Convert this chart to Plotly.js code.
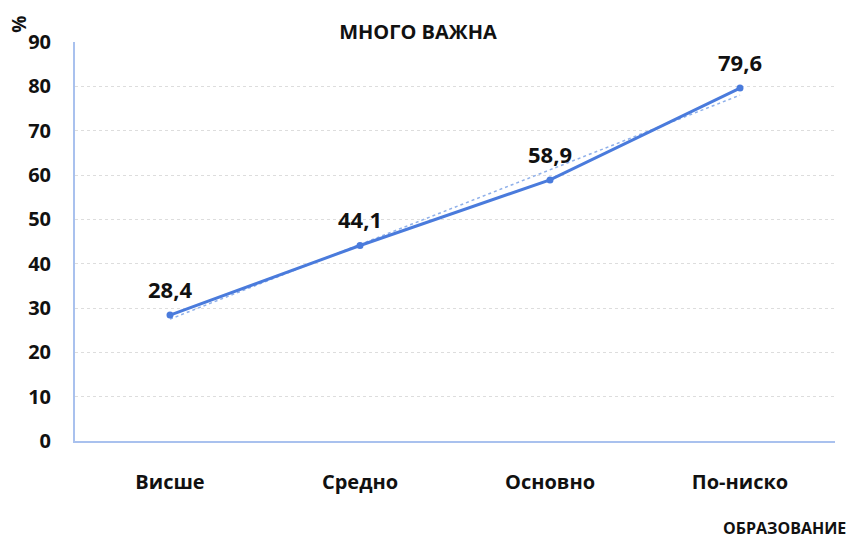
<!DOCTYPE html>
<html><head><meta charset="utf-8">
<script src="https://cdn.plot.ly/plotly-3.0.1.min.js"></script>
<style>body{margin:0;background:#fff}#c{width:853px;height:539px}</style>
</head><body><div id="c"></div>
<script>
const categories = ["Висше", "Средно", "Основно", "По-ниско"];
const values = [28.4, 44.1, 58.9, 79.6];
const labels = ["28,4", "44,1", "58,9", "79,6"];
const yTicks = [0, 10, 20, 30, 40, 50, 60, 70, 80, 90];

// linear trendline (least squares on category index)
const n = values.length;
const xs = values.map((v, i) => i + 1);
const mx = xs.reduce((a, b) => a + b, 0) / n;
const my = values.reduce((a, b) => a + b, 0) / n;
let sxy = 0, sxx = 0;
for (let i = 0; i < n; i++) { sxy += (xs[i] - mx) * (values[i] - my); sxx += (xs[i] - mx) ** 2; }
const slope = sxy / sxx, icpt = my - slope * mx;
const trend = xs.map(x => icpt + slope * x);

const F = '"Open Sans", sans-serif';
const data = [
  {x: categories, y: trend, type: 'scatter', mode: 'lines',
   line: {color: '#8fb0ea', width: 1.5, dash: 'dot'}, hoverinfo: 'skip'},
  {x: categories, y: values, type: 'scatter', mode: 'lines+markers',
   line: {color: '#4a7bdc', width: 3}, marker: {color: '#4a7bdc', size: 7}}
];
const labelAnns = categories.map((c, i) => ({
  x: c, y: values[i], xref: 'x', yref: 'y', text: labels[i], showarrow: false,
  yshift: 26, font: {family: F, size: 22, color: '#111', weight: 'bold'}
}));
const layout = {
  width: 853, height: 539, showlegend: false,
  margin: {l: 75, r: 18, t: 42, b: 98},
  paper_bgcolor: '#fff', plot_bgcolor: '#fff',
  title: {text: 'МНОГО ВАЖНА', x: 0.49, xanchor: 'center', y: 0.94, yanchor: 'middle',
          font: {family: F, size: 20, color: '#111', weight: 'bold'}},
  xaxis: {type: 'category', range: [-0.5, 3.5], showgrid: false,
          showline: true, linecolor: '#a9c1ee', linewidth: 2, ticks: '',
          ticklabelstandoff: 22,
          tickfont: {family: F, size: 20, color: '#111', weight: 'bold'}},
  yaxis: {range: [0, 90], tickvals: yTicks, showgrid: true, gridcolor: '#dddddd',
          griddash: 'dot', gridwidth: 1, zeroline: false,
          showline: true, linecolor: '#a9c1ee', linewidth: 2, ticks: '',
          ticklabelstandoff: 18,
          tickfont: {family: F, size: 20, color: '#111', weight: 'bold'}},
  annotations: labelAnns.concat([
    {text: '%', xref: 'paper', yref: 'paper', x: -0.074, xanchor: 'center',
     y: 1.045, yanchor: 'middle', showarrow: false,
     textangle: -90, font: {family: F, size: 19, color: '#111', weight: 'bold'}},
    {text: 'ОБРАЗОВАНИЕ', xref: 'paper', yref: 'paper', x: 1.017, xanchor: 'right',
     y: -0.218, yanchor: 'middle', showarrow: false,
     font: {family: F, size: 16, color: '#111', weight: 'bold'}}
  ])
};
Plotly.newPlot('c', data, layout, {displayModeBar: false});
</script></body></html>
